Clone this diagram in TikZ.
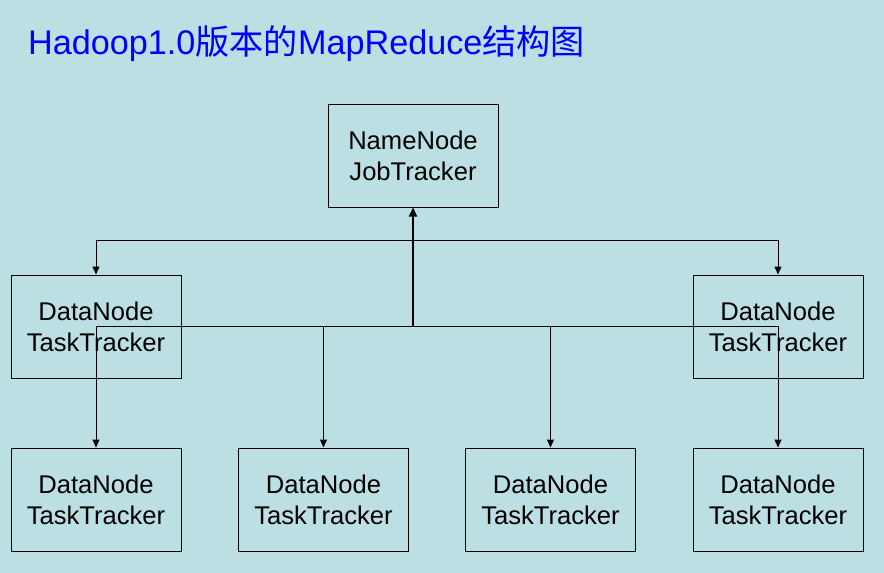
\documentclass[tikz,border=0pt]{standalone}
\usepackage{fontspec}
\setmainfont{Liberation Sans}
\newfontfamily\cjk{Noto Sans CJK SC}
\usetikzlibrary{arrows.meta}
\definecolor{bg}{RGB}{187,223,226}
\definecolor{titleblue}{RGB}{0,0,255}
\begin{document}
\begin{tikzpicture}[x=1pt,y=-1pt,
  box/.style={draw=black,line width=1pt,minimum width=170pt,minimum height=103pt,inner sep=0pt,
    align=center,font=\fontsize{25.6}{31}\selectfont},
  arr/.style={draw=black,line width=1pt,-{Triangle[length=8pt,width=7pt]}},
  thickarr/.style={draw=black,line width=2pt,-{Triangle[length=9pt,width=8pt]}}]
\fill[bg] (0,0) rectangle (884,573);
\useasboundingbox (0,0) rectangle (884,573);
\node[anchor=base west,inner sep=0pt,text=titleblue,font=\fontsize{34.2}{40}\selectfont] (title) at (28,54)
  {Hadoop1.0{\cjk 版本的}MapReduce{\cjk 结构图}};
\node[box] (nn) at (413,155.5) {NameNode\\JobTracker};
\node[box] (dl) at (96,326.5) {DataNode\\TaskTracker};
\node[box] (dr) at (778,326.5) {DataNode\\TaskTracker};
\node[box] (b1) at (96,499.5) {DataNode\\TaskTracker};
\node[box] (b2) at (323.5,499.5) {DataNode\\TaskTracker};
\node[box] (b3) at (550.5,499.5) {DataNode\\TaskTracker};
\node[box] (b4) at (778,499.5) {DataNode\\TaskTracker};
\coordinate (top) at (413,240);
\coordinate (hub) at (413,326);
\draw[arr] (top) -| (dl.north);
\draw[arr] (top) -| (dr.north);
\draw[arr] (hub) -| (b1.north);
\draw[arr] (hub) -| (b2.north);
\draw[arr] (hub) -| (b3.north);
\draw[arr] (hub) -| (b4.north);
\draw[thickarr] (hub) -- (nn.south);
\end{tikzpicture}
\end{document}
